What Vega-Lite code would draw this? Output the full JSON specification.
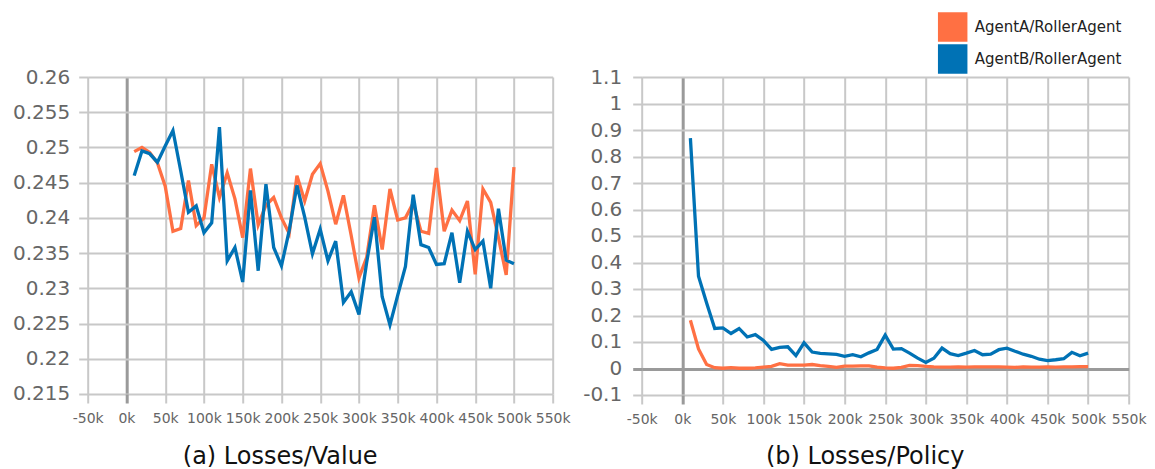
{
  "$schema": "https://vega.github.io/schema/vega-lite/v6.json",
  "background": "white",
  "padding": {"left": 11.7, "top": 12, "right": 5, "bottom": 0},
  "spacing": 11,
  "config": {
    "view": {"stroke": null},
    "font": "DejaVu Sans"
  },
  "datasets": {
    "value": [
      {"step": 10000, "agent": "AgentA/RollerAgent", "loss": 0.2494},
      {"step": 20000, "agent": "AgentA/RollerAgent", "loss": 0.2500},
      {"step": 30000, "agent": "AgentA/RollerAgent", "loss": 0.2493},
      {"step": 40000, "agent": "AgentA/RollerAgent", "loss": 0.2478},
      {"step": 50000, "agent": "AgentA/RollerAgent", "loss": 0.2445},
      {"step": 60000, "agent": "AgentA/RollerAgent", "loss": 0.2381},
      {"step": 70000, "agent": "AgentA/RollerAgent", "loss": 0.2385},
      {"step": 80000, "agent": "AgentA/RollerAgent", "loss": 0.2453},
      {"step": 90000, "agent": "AgentA/RollerAgent", "loss": 0.2389},
      {"step": 100000, "agent": "AgentA/RollerAgent", "loss": 0.2400},
      {"step": 110000, "agent": "AgentA/RollerAgent", "loss": 0.2476},
      {"step": 120000, "agent": "AgentA/RollerAgent", "loss": 0.2429},
      {"step": 130000, "agent": "AgentA/RollerAgent", "loss": 0.2464},
      {"step": 140000, "agent": "AgentA/RollerAgent", "loss": 0.2427},
      {"step": 150000, "agent": "AgentA/RollerAgent", "loss": 0.2372},
      {"step": 160000, "agent": "AgentA/RollerAgent", "loss": 0.2470},
      {"step": 170000, "agent": "AgentA/RollerAgent", "loss": 0.2390},
      {"step": 180000, "agent": "AgentA/RollerAgent", "loss": 0.2418},
      {"step": 190000, "agent": "AgentA/RollerAgent", "loss": 0.2429},
      {"step": 200000, "agent": "AgentA/RollerAgent", "loss": 0.2400},
      {"step": 210000, "agent": "AgentA/RollerAgent", "loss": 0.2378},
      {"step": 220000, "agent": "AgentA/RollerAgent", "loss": 0.2460},
      {"step": 230000, "agent": "AgentA/RollerAgent", "loss": 0.2424},
      {"step": 240000, "agent": "AgentA/RollerAgent", "loss": 0.2462},
      {"step": 250000, "agent": "AgentA/RollerAgent", "loss": 0.2477},
      {"step": 260000, "agent": "AgentA/RollerAgent", "loss": 0.2438},
      {"step": 270000, "agent": "AgentA/RollerAgent", "loss": 0.2391},
      {"step": 280000, "agent": "AgentA/RollerAgent", "loss": 0.2432},
      {"step": 290000, "agent": "AgentA/RollerAgent", "loss": 0.2375},
      {"step": 300000, "agent": "AgentA/RollerAgent", "loss": 0.2315},
      {"step": 310000, "agent": "AgentA/RollerAgent", "loss": 0.2344},
      {"step": 320000, "agent": "AgentA/RollerAgent", "loss": 0.2418},
      {"step": 330000, "agent": "AgentA/RollerAgent", "loss": 0.2355},
      {"step": 340000, "agent": "AgentA/RollerAgent", "loss": 0.2441},
      {"step": 350000, "agent": "AgentA/RollerAgent", "loss": 0.2397},
      {"step": 360000, "agent": "AgentA/RollerAgent", "loss": 0.2400},
      {"step": 370000, "agent": "AgentA/RollerAgent", "loss": 0.2421},
      {"step": 380000, "agent": "AgentA/RollerAgent", "loss": 0.2381},
      {"step": 390000, "agent": "AgentA/RollerAgent", "loss": 0.2378},
      {"step": 400000, "agent": "AgentA/RollerAgent", "loss": 0.2471},
      {"step": 410000, "agent": "AgentA/RollerAgent", "loss": 0.2381},
      {"step": 420000, "agent": "AgentA/RollerAgent", "loss": 0.2411},
      {"step": 430000, "agent": "AgentA/RollerAgent", "loss": 0.2396},
      {"step": 440000, "agent": "AgentA/RollerAgent", "loss": 0.2424},
      {"step": 450000, "agent": "AgentA/RollerAgent", "loss": 0.2320},
      {"step": 460000, "agent": "AgentA/RollerAgent", "loss": 0.2441},
      {"step": 470000, "agent": "AgentA/RollerAgent", "loss": 0.2422},
      {"step": 480000, "agent": "AgentA/RollerAgent", "loss": 0.2372},
      {"step": 490000, "agent": "AgentA/RollerAgent", "loss": 0.2319},
      {"step": 500000, "agent": "AgentA/RollerAgent", "loss": 0.2472},
      {"step": 10000, "agent": "AgentB/RollerAgent", "loss": 0.2460},
      {"step": 20000, "agent": "AgentB/RollerAgent", "loss": 0.2495},
      {"step": 30000, "agent": "AgentB/RollerAgent", "loss": 0.2491},
      {"step": 40000, "agent": "AgentB/RollerAgent", "loss": 0.2479},
      {"step": 50000, "agent": "AgentB/RollerAgent", "loss": 0.2502},
      {"step": 60000, "agent": "AgentB/RollerAgent", "loss": 0.2524},
      {"step": 70000, "agent": "AgentB/RollerAgent", "loss": 0.2467},
      {"step": 80000, "agent": "AgentB/RollerAgent", "loss": 0.2408},
      {"step": 90000, "agent": "AgentB/RollerAgent", "loss": 0.2417},
      {"step": 100000, "agent": "AgentB/RollerAgent", "loss": 0.2379},
      {"step": 110000, "agent": "AgentB/RollerAgent", "loss": 0.2393},
      {"step": 120000, "agent": "AgentB/RollerAgent", "loss": 0.2529},
      {"step": 130000, "agent": "AgentB/RollerAgent", "loss": 0.2339},
      {"step": 140000, "agent": "AgentB/RollerAgent", "loss": 0.2358},
      {"step": 150000, "agent": "AgentB/RollerAgent", "loss": 0.2309},
      {"step": 160000, "agent": "AgentB/RollerAgent", "loss": 0.2439},
      {"step": 170000, "agent": "AgentB/RollerAgent", "loss": 0.2325},
      {"step": 180000, "agent": "AgentB/RollerAgent", "loss": 0.2448},
      {"step": 190000, "agent": "AgentB/RollerAgent", "loss": 0.2358},
      {"step": 200000, "agent": "AgentB/RollerAgent", "loss": 0.2332},
      {"step": 210000, "agent": "AgentB/RollerAgent", "loss": 0.2382},
      {"step": 220000, "agent": "AgentB/RollerAgent", "loss": 0.2446},
      {"step": 230000, "agent": "AgentB/RollerAgent", "loss": 0.2401},
      {"step": 240000, "agent": "AgentB/RollerAgent", "loss": 0.2349},
      {"step": 250000, "agent": "AgentB/RollerAgent", "loss": 0.2384},
      {"step": 260000, "agent": "AgentB/RollerAgent", "loss": 0.2339},
      {"step": 270000, "agent": "AgentB/RollerAgent", "loss": 0.2367},
      {"step": 280000, "agent": "AgentB/RollerAgent", "loss": 0.2280},
      {"step": 290000, "agent": "AgentB/RollerAgent", "loss": 0.2295},
      {"step": 300000, "agent": "AgentB/RollerAgent", "loss": 0.2263},
      {"step": 310000, "agent": "AgentB/RollerAgent", "loss": 0.2337},
      {"step": 320000, "agent": "AgentB/RollerAgent", "loss": 0.2401},
      {"step": 330000, "agent": "AgentB/RollerAgent", "loss": 0.2288},
      {"step": 340000, "agent": "AgentB/RollerAgent", "loss": 0.2248},
      {"step": 350000, "agent": "AgentB/RollerAgent", "loss": 0.2290},
      {"step": 360000, "agent": "AgentB/RollerAgent", "loss": 0.2331},
      {"step": 370000, "agent": "AgentB/RollerAgent", "loss": 0.2433},
      {"step": 380000, "agent": "AgentB/RollerAgent", "loss": 0.2362},
      {"step": 390000, "agent": "AgentB/RollerAgent", "loss": 0.2358},
      {"step": 400000, "agent": "AgentB/RollerAgent", "loss": 0.2334},
      {"step": 410000, "agent": "AgentB/RollerAgent", "loss": 0.2335},
      {"step": 420000, "agent": "AgentB/RollerAgent", "loss": 0.2379},
      {"step": 430000, "agent": "AgentB/RollerAgent", "loss": 0.2308},
      {"step": 440000, "agent": "AgentB/RollerAgent", "loss": 0.2381},
      {"step": 450000, "agent": "AgentB/RollerAgent", "loss": 0.2355},
      {"step": 460000, "agent": "AgentB/RollerAgent", "loss": 0.2367},
      {"step": 470000, "agent": "AgentB/RollerAgent", "loss": 0.2300},
      {"step": 480000, "agent": "AgentB/RollerAgent", "loss": 0.2413},
      {"step": 490000, "agent": "AgentB/RollerAgent", "loss": 0.2340},
      {"step": 500000, "agent": "AgentB/RollerAgent", "loss": 0.2335}
    ],
    "policy": [
      {"step": 10000, "agent": "AgentA/RollerAgent", "loss": 0.182},
      {"step": 20000, "agent": "AgentA/RollerAgent", "loss": 0.074},
      {"step": 30000, "agent": "AgentA/RollerAgent", "loss": 0.015},
      {"step": 40000, "agent": "AgentA/RollerAgent", "loss": 0.003},
      {"step": 50000, "agent": "AgentA/RollerAgent", "loss": 0.001},
      {"step": 60000, "agent": "AgentA/RollerAgent", "loss": 0.003},
      {"step": 70000, "agent": "AgentA/RollerAgent", "loss": 0.001},
      {"step": 80000, "agent": "AgentA/RollerAgent", "loss": 0.001},
      {"step": 90000, "agent": "AgentA/RollerAgent", "loss": 0.002},
      {"step": 100000, "agent": "AgentA/RollerAgent", "loss": 0.005},
      {"step": 110000, "agent": "AgentA/RollerAgent", "loss": 0.008},
      {"step": 120000, "agent": "AgentA/RollerAgent", "loss": 0.018},
      {"step": 130000, "agent": "AgentA/RollerAgent", "loss": 0.013},
      {"step": 140000, "agent": "AgentA/RollerAgent", "loss": 0.013},
      {"step": 150000, "agent": "AgentA/RollerAgent", "loss": 0.013},
      {"step": 160000, "agent": "AgentA/RollerAgent", "loss": 0.015},
      {"step": 170000, "agent": "AgentA/RollerAgent", "loss": 0.011},
      {"step": 180000, "agent": "AgentA/RollerAgent", "loss": 0.008},
      {"step": 190000, "agent": "AgentA/RollerAgent", "loss": 0.004},
      {"step": 200000, "agent": "AgentA/RollerAgent", "loss": 0.009},
      {"step": 210000, "agent": "AgentA/RollerAgent", "loss": 0.009},
      {"step": 220000, "agent": "AgentA/RollerAgent", "loss": 0.010},
      {"step": 230000, "agent": "AgentA/RollerAgent", "loss": 0.010},
      {"step": 240000, "agent": "AgentA/RollerAgent", "loss": 0.005},
      {"step": 250000, "agent": "AgentA/RollerAgent", "loss": 0.002},
      {"step": 260000, "agent": "AgentA/RollerAgent", "loss": 0.001},
      {"step": 270000, "agent": "AgentA/RollerAgent", "loss": 0.004},
      {"step": 280000, "agent": "AgentA/RollerAgent", "loss": 0.012},
      {"step": 290000, "agent": "AgentA/RollerAgent", "loss": 0.011},
      {"step": 300000, "agent": "AgentA/RollerAgent", "loss": 0.008},
      {"step": 310000, "agent": "AgentA/RollerAgent", "loss": 0.006},
      {"step": 320000, "agent": "AgentA/RollerAgent", "loss": 0.005},
      {"step": 330000, "agent": "AgentA/RollerAgent", "loss": 0.005},
      {"step": 340000, "agent": "AgentA/RollerAgent", "loss": 0.006},
      {"step": 350000, "agent": "AgentA/RollerAgent", "loss": 0.005},
      {"step": 360000, "agent": "AgentA/RollerAgent", "loss": 0.006},
      {"step": 370000, "agent": "AgentA/RollerAgent", "loss": 0.006},
      {"step": 380000, "agent": "AgentA/RollerAgent", "loss": 0.006},
      {"step": 390000, "agent": "AgentA/RollerAgent", "loss": 0.006},
      {"step": 400000, "agent": "AgentA/RollerAgent", "loss": 0.005},
      {"step": 410000, "agent": "AgentA/RollerAgent", "loss": 0.004},
      {"step": 420000, "agent": "AgentA/RollerAgent", "loss": 0.006},
      {"step": 430000, "agent": "AgentA/RollerAgent", "loss": 0.005},
      {"step": 440000, "agent": "AgentA/RollerAgent", "loss": 0.005},
      {"step": 450000, "agent": "AgentA/RollerAgent", "loss": 0.006},
      {"step": 460000, "agent": "AgentA/RollerAgent", "loss": 0.005},
      {"step": 470000, "agent": "AgentA/RollerAgent", "loss": 0.006},
      {"step": 480000, "agent": "AgentA/RollerAgent", "loss": 0.006},
      {"step": 490000, "agent": "AgentA/RollerAgent", "loss": 0.007},
      {"step": 500000, "agent": "AgentA/RollerAgent", "loss": 0.007},
      {"step": 10000, "agent": "AgentB/RollerAgent", "loss": 0.869},
      {"step": 20000, "agent": "AgentB/RollerAgent", "loss": 0.348},
      {"step": 30000, "agent": "AgentB/RollerAgent", "loss": 0.247},
      {"step": 40000, "agent": "AgentB/RollerAgent", "loss": 0.151},
      {"step": 50000, "agent": "AgentB/RollerAgent", "loss": 0.153},
      {"step": 60000, "agent": "AgentB/RollerAgent", "loss": 0.132},
      {"step": 70000, "agent": "AgentB/RollerAgent", "loss": 0.151},
      {"step": 80000, "agent": "AgentB/RollerAgent", "loss": 0.119},
      {"step": 90000, "agent": "AgentB/RollerAgent", "loss": 0.128},
      {"step": 100000, "agent": "AgentB/RollerAgent", "loss": 0.106},
      {"step": 110000, "agent": "AgentB/RollerAgent", "loss": 0.072},
      {"step": 120000, "agent": "AgentB/RollerAgent", "loss": 0.080},
      {"step": 130000, "agent": "AgentB/RollerAgent", "loss": 0.082},
      {"step": 140000, "agent": "AgentB/RollerAgent", "loss": 0.049},
      {"step": 150000, "agent": "AgentB/RollerAgent", "loss": 0.097},
      {"step": 160000, "agent": "AgentB/RollerAgent", "loss": 0.062},
      {"step": 170000, "agent": "AgentB/RollerAgent", "loss": 0.057},
      {"step": 180000, "agent": "AgentB/RollerAgent", "loss": 0.055},
      {"step": 190000, "agent": "AgentB/RollerAgent", "loss": 0.053},
      {"step": 200000, "agent": "AgentB/RollerAgent", "loss": 0.046},
      {"step": 210000, "agent": "AgentB/RollerAgent", "loss": 0.052},
      {"step": 220000, "agent": "AgentB/RollerAgent", "loss": 0.044},
      {"step": 230000, "agent": "AgentB/RollerAgent", "loss": 0.059},
      {"step": 240000, "agent": "AgentB/RollerAgent", "loss": 0.072},
      {"step": 250000, "agent": "AgentB/RollerAgent", "loss": 0.126},
      {"step": 260000, "agent": "AgentB/RollerAgent", "loss": 0.073},
      {"step": 270000, "agent": "AgentB/RollerAgent", "loss": 0.075},
      {"step": 280000, "agent": "AgentB/RollerAgent", "loss": 0.058},
      {"step": 290000, "agent": "AgentB/RollerAgent", "loss": 0.039},
      {"step": 300000, "agent": "AgentB/RollerAgent", "loss": 0.023},
      {"step": 310000, "agent": "AgentB/RollerAgent", "loss": 0.039},
      {"step": 320000, "agent": "AgentB/RollerAgent", "loss": 0.077},
      {"step": 330000, "agent": "AgentB/RollerAgent", "loss": 0.056},
      {"step": 340000, "agent": "AgentB/RollerAgent", "loss": 0.049},
      {"step": 350000, "agent": "AgentB/RollerAgent", "loss": 0.058},
      {"step": 360000, "agent": "AgentB/RollerAgent", "loss": 0.068},
      {"step": 370000, "agent": "AgentB/RollerAgent", "loss": 0.052},
      {"step": 380000, "agent": "AgentB/RollerAgent", "loss": 0.054},
      {"step": 390000, "agent": "AgentB/RollerAgent", "loss": 0.071},
      {"step": 400000, "agent": "AgentB/RollerAgent", "loss": 0.077},
      {"step": 410000, "agent": "AgentB/RollerAgent", "loss": 0.065},
      {"step": 420000, "agent": "AgentB/RollerAgent", "loss": 0.054},
      {"step": 430000, "agent": "AgentB/RollerAgent", "loss": 0.046},
      {"step": 440000, "agent": "AgentB/RollerAgent", "loss": 0.035},
      {"step": 450000, "agent": "AgentB/RollerAgent", "loss": 0.030},
      {"step": 460000, "agent": "AgentB/RollerAgent", "loss": 0.033},
      {"step": 470000, "agent": "AgentB/RollerAgent", "loss": 0.037},
      {"step": 480000, "agent": "AgentB/RollerAgent", "loss": 0.061},
      {"step": 490000, "agent": "AgentB/RollerAgent", "loss": 0.048},
      {"step": 500000, "agent": "AgentB/RollerAgent", "loss": 0.058}
    ]
  },
  "hconcat": [
    {
      "width": 465,
      "height": 317,
      "data": {"name": "value"},
      "mark": {"type": "line", "strokeWidth": 3.3},
      "encoding": {
        "x": {
          "field": "step", "type": "quantitative",
          "scale": {"domain": [-50000, 550000], "nice": false, "zero": false},
          "axis": {
            "title": "(a) Losses/Value",
            "values": [-50000, 0, 50000, 100000, 150000, 200000, 250000, 300000, 350000, 400000, 450000, 500000, 550000],
            "format": "~s",
            "labelExpr": "replace(datum.label, '\u2212', '-')",
            "domain": false,
            "labelFontSize": 14, "labelColor": "#666666", "labelPadding": 9,
            "labelFlush": false, "labelOverlap": false,
            "tickSize": 9,
            "tickColor": {"condition": {"test": "datum.value === 0", "value": "#9a9a9a"}, "value": "#c8c8c8"},
            "tickWidth": {"condition": {"test": "datum.value === 0", "value": 3}, "value": 2},
            "gridColor": {"condition": {"test": "datum.value === 0", "value": "#9a9a9a"}, "value": "#c8c8c8"},
            "gridWidth": {"condition": {"test": "datum.value === 0", "value": 3}, "value": 2},
            "titleFontSize": 24, "titleFontWeight": "normal", "titleColor": "#111111",
            "titleX": 192, "titleY": 70, "titleBaseline": "alphabetic", "titleAlign": "center"
          }
        },
        "y": {
          "field": "loss", "type": "quantitative",
          "scale": {"domain": [0.215, 0.26], "nice": false, "zero": false},
          "axis": {
            "title": null,
            "values": [0.215, 0.22, 0.225, 0.23, 0.235, 0.24, 0.245, 0.25, 0.255, 0.26],
            "format": "~g",
            "domain": false,
            "labelFontSize": 20, "labelColor": "#666666", "labelPadding": 9, "labelOverlap": false,
            "tickSize": 9, "tickColor": "#c8c8c8", "tickWidth": 2,
            "gridColor": "#c8c8c8", "gridWidth": 2
          }
        },
        "color": {
          "field": "agent", "type": "nominal",
          "scale": {"domain": ["AgentA/RollerAgent", "AgentB/RollerAgent"], "range": ["#ff7043", "#0072b5"]},
          "legend": {
            "title": null, "orient": "none", "legendX": 850, "legendY": -65,
            "symbolType": "square", "symbolSize": 870, "symbolStrokeWidth": 0,
            "labelFontSize": 15, "labelColor": "#222222", "labelOffset": 7,
            "rowPadding": 2, "padding": 0, "offset": 0,
            "encode": {"symbols": {"update": {"fill": {"scale": "color", "field": "value"}, "opacity": {"value": 1}}}}
          }
        }
      }
    },
    {
      "width": 487,
      "height": 318,
      "data": {"name": "policy"},
      "mark": {"type": "line", "strokeWidth": 3.3},
      "encoding": {
        "x": {
          "field": "step", "type": "quantitative",
          "scale": {"domain": [-50000, 550000], "nice": false, "zero": false},
          "axis": {
            "title": "(b) Losses/Policy",
            "values": [-50000, 0, 50000, 100000, 150000, 200000, 250000, 300000, 350000, 400000, 450000, 500000, 550000],
            "format": "~s",
            "labelExpr": "replace(datum.label, '\u2212', '-')",
            "domain": false,
            "labelFontSize": 14, "labelColor": "#666666", "labelPadding": 9,
            "labelFlush": false, "labelOverlap": false,
            "tickSize": 9,
            "tickColor": {"condition": {"test": "datum.value === 0", "value": "#9a9a9a"}, "value": "#c8c8c8"},
            "tickWidth": {"condition": {"test": "datum.value === 0", "value": 3}, "value": 2},
            "gridColor": {"condition": {"test": "datum.value === 0", "value": "#9a9a9a"}, "value": "#c8c8c8"},
            "gridWidth": {"condition": {"test": "datum.value === 0", "value": 3}, "value": 2},
            "titleFontSize": 24, "titleFontWeight": "normal", "titleColor": "#111111",
            "titleX": 223, "titleY": 69, "titleBaseline": "alphabetic", "titleAlign": "center"
          }
        },
        "y": {
          "field": "loss", "type": "quantitative",
          "scale": {"domain": [-0.1, 1.1], "nice": false, "zero": false},
          "axis": {
            "title": null,
            "values": [-0.1, 0, 0.1, 0.2, 0.3, 0.4, 0.5, 0.6, 0.7, 0.8, 0.9, 1, 1.1],
            "format": "~g",
            "labelExpr": "replace(datum.label, '\u2212', '-')",
            "domain": false,
            "labelFontSize": 20, "labelColor": "#666666", "labelPadding": 11, "labelOverlap": false,
            "tickSize": 9,
            "tickColor": {"condition": {"test": "datum.value === 0", "value": "#9a9a9a"}, "value": "#c8c8c8"},
            "tickWidth": {"condition": {"test": "datum.value === 0", "value": 3}, "value": 2},
            "gridColor": {"condition": {"test": "datum.value === 0", "value": "#9a9a9a"}, "value": "#c8c8c8"},
            "gridWidth": {"condition": {"test": "datum.value === 0", "value": 3}, "value": 2}
          }
        },
        "color": {
          "field": "agent", "type": "nominal",
          "scale": {"domain": ["AgentA/RollerAgent", "AgentB/RollerAgent"], "range": ["#ff7043", "#0072b5"]},
          "legend": {
            "title": null, "orient": "none", "legendX": 850, "legendY": -65,
            "symbolType": "square", "symbolSize": 870, "symbolStrokeWidth": 0,
            "labelFontSize": 15, "labelColor": "#222222", "labelOffset": 7,
            "rowPadding": 2, "padding": 0, "offset": 0,
            "encode": {"symbols": {"update": {"fill": {"scale": "color", "field": "value"}, "opacity": {"value": 1}}}}
          }
        }
      }
    }
  ]
}
